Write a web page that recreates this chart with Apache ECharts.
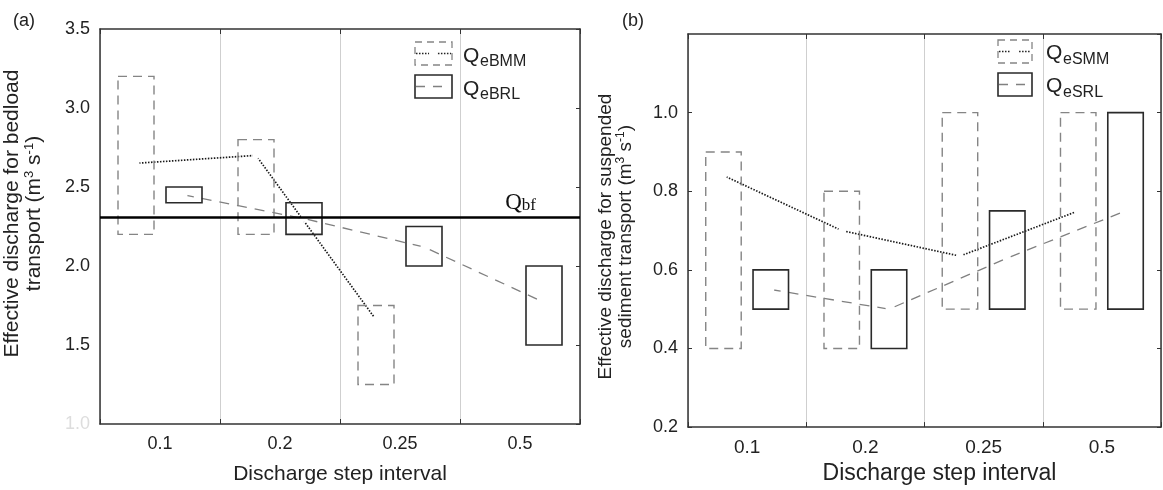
<!DOCTYPE html>
<html>
<head>
<meta charset="utf-8">
<script src="https://cdn.jsdelivr.net/npm/echarts@6/dist/echarts.min.js"></script>
<style>
  html, body { margin: 0; padding: 0; background: #fff; }
  #chart { width: 1163px; height: 490px; }
</style>
</head>
<body>
<div id="chart"></div>
<script>
// Discharge step intervals (shared by both panels)
const categories = ['0.1', '0.2', '0.25', '0.5'];

// (a) bedload transport: boxes (low/high) and connecting-line values
const bedMMLow  = [2.2, 2.2, 1.25, null];
const bedMMHigh = [3.2, 2.8, 1.75, null];
const bedRLLow  = [2.4, 2.2, 2.0, 1.5];
const bedRLHigh = [2.5, 2.4, 2.25, 2.0];
const bedMMLine = [2.65, 2.70, 1.66, null];
const bedRLLine = [2.45, 2.30, 2.12, 1.77];
const bankfullQ = 2.31;
const bedYRange = [1.0, 3.5, 0.5];   // min, max, interval

// (b) suspended sediment transport
const susMMLow  = [0.4, 0.4, 0.5, 0.5];
const susMMHigh = [0.9, 0.8, 1.0, 1.0];
const susRLLow  = [0.5, 0.4, 0.5, 0.5];
const susRLHigh = [0.6, 0.6, 0.75, 1.0];
const susMMLine = [0.84, 0.70, 0.635, 0.75];
const susRLLine = [0.55, 0.50, 0.63, 0.75];
const susYRange = [0.2, 1.2, 0.2];

const FONT = '"Liberation Sans", Arial, Helvetica, sans-serif';
const SERIF = '"Liberation Serif", "Times New Roman", serif';
const INK = '#222';
const FRAME = '#333';

// position of each box inside its category band (band i spans [i, i+1])
const MM_POS = 0.3, RL_POS = 0.7, BOX_W = 0.3;

const toPoints = (vals, pos) => vals.map((v, i) => v == null ? null : [i + pos, v]).filter(Boolean);
const toBoxes = (lo, hi, pos) => lo.map((l, i) => l == null ? null : [i + pos, l, hi[i]]).filter(Boolean);

function boxRenderer(style) {
  return function (params, api) {
    const x = api.value(0), lo = api.value(1), hi = api.value(2);
    const a = api.coord([x - BOX_W / 2, hi]);
    const b = api.coord([x + BOX_W / 2, lo]);
    return {
      type: 'rect',
      shape: { x: a[0], y: a[1], width: b[0] - a[0], height: b[1] - a[1] },
      style: Object.assign({ fill: 'none' }, style)
    };
  };
}

const mmBoxStyle = { stroke: '#858585', lineWidth: 1.4, lineDash: [9, 6] };
const rlBoxStyle = { stroke: '#2a2a2a', lineWidth: 1.6 };
const mmLineStyle = { color: '#1a1a1a', width: 1.7, type: [1.5, 1.5] };
const rlLineStyle = { color: '#808080', width: 1.3, type: [10, 8] };

function categoryAxis(grid, withLabels, labelSize, nameOpts) {
  const ax = {
    type: 'category', gridIndex: grid, data: categories,
    position: withLabels ? 'bottom' : 'top',
    axisLine: { show: true, lineStyle: { color: FRAME, width: 1.5 } },
    axisTick: { show: true, inside: true, length: 5, interval: 0, lineStyle: { color: FRAME } },
    axisLabel: { show: withLabels, fontFamily: FONT, fontSize: labelSize || 18, color: INK, margin: 11 },
    splitLine: { show: withLabels, lineStyle: { color: '#cfcfcf', width: 1 } }
  };
  if (nameOpts) Object.assign(ax, nameOpts);
  return ax;
}

function valueXAxis(grid) {
  return { type: 'value', gridIndex: grid, min: 0, max: categories.length, show: false };
}

function valueYAxis(grid, range, left, extra) {
  const ax = {
    type: 'value', gridIndex: grid, position: left ? 'left' : 'right',
    min: range[0], max: range[1], interval: range[2],
    axisLine: { show: true, lineStyle: { color: FRAME, width: 1.5 } },
    axisTick: { show: true, inside: true, length: 4, lineStyle: { color: FRAME } },
    axisLabel: { show: left, fontFamily: FONT, fontSize: 18, color: INK, margin: 10,
                 formatter: v => v.toFixed(1) },
    splitLine: { show: false }
  };
  if (extra) Object.assign(ax, extra);
  return ax;
}

const yTitleRich = (size) => ({
  t: { fontFamily: FONT, fontSize: size, color: INK, lineHeight: size + 1, verticalAlign: 'bottom' },
  sup: { fontFamily: FONT, fontSize: Math.round(size * 0.62), color: INK, lineHeight: 10, verticalAlign: 'top' }
});

function panelSeries(xIdx, yIdx, mmLo, mmHi, rlLo, rlHi, mmLine, rlLine, names) {
  const gapSymbol = { symbol: 'circle', symbolSize: 7, itemStyle: { color: '#fff', borderWidth: 0 } };
  return [
    Object.assign({ name: names[0] + ' trend', type: 'line', xAxisIndex: xIdx, yAxisIndex: yIdx,
      data: toPoints(mmLine, MM_POS), lineStyle: mmLineStyle, z: 2 }, gapSymbol),
    Object.assign({ name: names[1] + ' trend', type: 'line', xAxisIndex: xIdx, yAxisIndex: yIdx,
      data: toPoints(rlLine, RL_POS), lineStyle: rlLineStyle, z: 2 }, gapSymbol),
    { name: names[0], type: 'custom', xAxisIndex: xIdx, yAxisIndex: yIdx, z: 3,
      data: toBoxes(mmLo, mmHi, MM_POS), renderItem: boxRenderer(mmBoxStyle) },
    { name: names[1], type: 'custom', xAxisIndex: xIdx, yAxisIndex: yIdx, z: 3,
      data: toBoxes(rlLo, rlHi, RL_POS), renderItem: boxRenderer(rlBoxStyle) }
  ];
}

// Legend: icon box with its trend line through the middle, then Q with subscript
function legendEntries(x, w, tops, qx, qMid, subMid, subs) {
  const h = 23, out = [];
  tops.forEach((top, k) => {
    const mm = k === 0;
    out.push({ type: 'rect', shape: { x: x, y: top, width: w, height: h },
      style: mm ? { fill: 'none', stroke: '#858585', lineWidth: 1.3, lineDash: [7, 5] }
                : { fill: 'none', stroke: '#2a2a2a', lineWidth: 1.6 } });
    const cy = top + h / 2;
    if (mm) {
      out.push({ type: 'line', shape: { x1: x + 1, y1: cy, x2: x + w * 0.38, y2: cy },
        style: { stroke: '#222', lineWidth: 1.5, lineDash: [1.5, 1.5] } });
      out.push({ type: 'line', shape: { x1: x + w * 0.62, y1: cy, x2: x + w - 1, y2: cy },
        style: { stroke: '#222', lineWidth: 1.5, lineDash: [1.5, 1.5] } });
    } else {
      out.push({ type: 'line', shape: { x1: x + 1, y1: cy, x2: x + w - 4, y2: cy },
        style: { stroke: '#808080', lineWidth: 1.3, lineDash: [9, 8] } });
    }
    out.push({ type: 'text', x: qx, y: qMid[k],
      style: { text: 'Q', fontFamily: FONT, fontSize: 21, fill: INK, verticalAlign: 'middle' } });
    out.push({ type: 'text', x: qx + 17, y: subMid[k],
      style: { text: subs[k], fontFamily: FONT, fontSize: 16, fill: INK, verticalAlign: 'middle' } });
  });
  return out;
}

const option = {
  animation: false,
  backgroundColor: '#fff',
  grid: [
    { left: 100, top: 29, width: 480, height: 399 },
    { left: 688, top: 34, width: 473, height: 394 }
  ],
  xAxis: [
    categoryAxis(0, true, 18, { name: 'Discharge step interval', nameLocation: 'middle', nameGap: 40,
      nameTextStyle: { fontFamily: FONT, fontSize: 21, color: INK } }),
    valueXAxis(0),
    categoryAxis(0, false),
    categoryAxis(1, true, 19, { name: 'Discharge step interval', nameLocation: 'middle', nameGap: 31,
      nameTextStyle: { fontFamily: FONT, fontSize: 23, color: INK, padding: [0, 0, 0, 30] } }),
    valueXAxis(1),
    categoryAxis(1, false)
  ],
  yAxis: [
    valueYAxis(0, bedYRange, true, {
      axisTick: { show: false },
      axisLabel: { fontFamily: FONT, fontSize: 18, color: INK, margin: 10,
        formatter: v => v === bedYRange[0] ? '{faint|' + v.toFixed(1) + '}' : v.toFixed(1),
        rich: { faint: { fontFamily: FONT, fontSize: 18, color: '#dddddd' } } },
      name: '{t|Effective discharge for bedload}\n{t|transport (m}{sup|3}{t| s}{sup|-1}{t|)}',
      nameLocation: 'middle', nameGap: 55,
      nameTextStyle: { rich: yTitleRich(21), padding: [0, 0, 0, 26] }
    }),
    valueYAxis(0, bedYRange, false),
    valueYAxis(1, susYRange, true, {
      axisLabel: { fontFamily: FONT, fontSize: 18, color: INK, margin: 10, showMaxLabel: false,
        formatter: v => v.toFixed(1) },
      name: '{t|Effective discharge for suspended}\n{t|sediment transport (m}{sup|3}{t| s}{sup|-1}{t|)}',
      nameLocation: 'middle', nameGap: 53,
      nameTextStyle: { rich: yTitleRich(19), padding: [0, 12, 0, 0] }
    }),
    valueYAxis(1, susYRange, false)
  ],
  series: [
    ...panelSeries(1, 0, bedMMLow, bedMMHigh, bedRLLow, bedRLHigh, bedMMLine, bedRLLine, ['QeBMM', 'QeBRL']),
    ...panelSeries(4, 2, susMMLow, susMMHigh, susRLLow, susRLHigh, susMMLine, susRLLine, ['QeSMM', 'QeSRL']),
    {
      name: 'Qbf', type: 'line', xAxisIndex: 1, yAxisIndex: 0, data: [],
      markLine: {
        silent: true, symbol: 'none', z: 6,
        lineStyle: { color: '#000', width: 2.5, type: 'solid' },
        label: {
          show: true, position: 'insideEndTop', distance: 3,
          formatter: '{q|Q}{s|bf}', padding: [0, 41, 0, 0],
          rich: {
            q: { fontFamily: SERIF, fontSize: 23, color: '#111', lineHeight: 24, verticalAlign: 'bottom' },
            s: { fontFamily: SERIF, fontSize: 17, color: '#111', lineHeight: 16, verticalAlign: 'bottom' }
          }
        },
        data: [{ yAxis: bankfullQ }]
      }
    }
  ],
  graphic: [
    { type: 'text', x: 13, y: 21, style: { text: '(a)', fontFamily: FONT, fontSize: 18, fill: INK, verticalAlign: 'middle' } },
    { type: 'text', x: 622, y: 21, style: { text: '(b)', fontFamily: FONT, fontSize: 18, fill: INK, verticalAlign: 'middle' } },
    ...legendEntries(415, 37, [42, 75], 463, [56, 89], [61.5, 94.5], ['eBMM', 'eBRL']),
    ...legendEntries(998, 34, [40, 73], 1046, [53, 86], [60, 93], ['eSMM', 'eSRL'])
  ]
};

const chart = echarts.init(document.getElementById('chart'), null, { renderer: 'canvas' });
chart.setOption(option);
</script>
</body>
</html>
